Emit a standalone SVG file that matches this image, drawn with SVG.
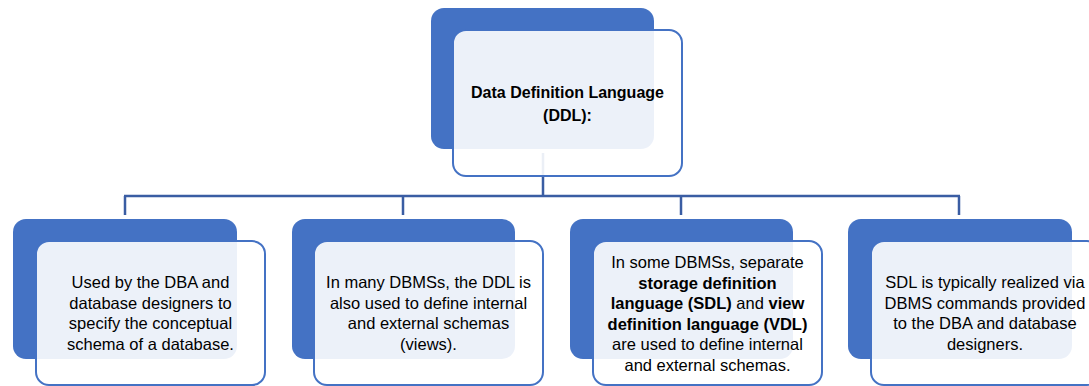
<svg xmlns="http://www.w3.org/2000/svg" width="1089" height="386" viewBox="0 0 1089 386">
<style>
.back{fill:#4472C4;}
.front{fill:#ffffff;fill-opacity:0.9;stroke:#4472C4;stroke-width:2;}
.conn{fill:none;stroke:#3A5DA3;stroke-width:2.5;}
text{font-family:"Liberation Sans",Arial,sans-serif;font-size:16.5px;fill:#000;text-anchor:middle;}
.b{font-weight:bold;}
.t{font-size:16px;}
</style>
<rect width="1089" height="386" fill="#ffffff"/>
<g id="connectors">
<path class="conn" d="M543,153 V196 M124,196 H960 M125,196 V215 M403,196 V215 M681,196 V215 M959,196 V215"/>
</g>
<g id="node-ddl">
<rect class="back" x="431" y="8" width="223" height="141" rx="13"/>
<rect class="front" x="453" y="30" width="229" height="146" rx="13"/>
<text class="b t" x="567.5" y="98">Data Definition Language</text>
<text class="b t" x="567.5" y="121">(DDL):</text>
</g>
<g id="node-1">
<rect class="back" x="13" y="219" width="224" height="140" rx="13"/>
<rect class="front" x="36" y="241" width="229" height="144" rx="13"/>
<text x="150.5" y="288">Used by the DBA and</text>
<text x="150.5" y="308.5">database designers to</text>
<text x="150.5" y="329">specify the conceptual</text>
<text x="150.5" y="349.5">schema of a database.</text>
</g>
<g id="node-2">
<rect class="back" x="292" y="219" width="223" height="140" rx="13"/>
<rect class="front" x="314" y="241" width="229" height="144" rx="13"/>
<text x="428.5" y="288">In many DBMSs, the DDL is</text>
<text x="428.5" y="308.5">also used to define internal</text>
<text x="428.5" y="329">and external schemas</text>
<text x="428.5" y="349.5">(views).</text>
</g>
<g id="node-3">
<rect class="back" x="570" y="219" width="223" height="140" rx="13"/>
<rect class="front" x="593" y="241" width="229" height="144" rx="13"/>
<text x="707.5" y="268">In some DBMSs, separate</text>
<text x="707.5" y="288.5" class="b">storage definition</text>
<text x="707.5" y="309"><tspan class="b">language (SDL)</tspan> and <tspan class="b">view</tspan></text>
<text x="707.5" y="329.5" class="b">definition language (VDL)</text>
<text x="707.5" y="350">are used to define internal</text>
<text x="707.5" y="370.5">and external schemas.</text>
</g>
<g id="node-4">
<rect class="back" x="848" y="219" width="224" height="140" rx="13"/>
<rect class="front" x="871" y="241" width="229" height="144" rx="13"/>
<text x="985" y="288">SDL is typically realized via</text>
<text x="985" y="308.5">DBMS commands provided</text>
<text x="985" y="329">to the DBA and database</text>
<text x="985" y="349.5">designers.</text>
</g>
</svg>
